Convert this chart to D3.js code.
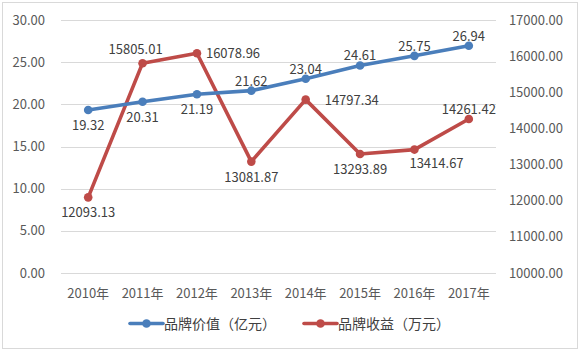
<!DOCTYPE html>
<html><head><meta charset="utf-8">
<script src="https://cdn.jsdelivr.net/npm/d3@7"></script>
<style>body{margin:0;background:#fff}svg{display:block}text{font-family:"Noto Sans CJK SC","Open Sans",sans-serif}</style>
</head><body><svg id="c" width="581" height="355"></svg>
<script>
const categories = ["2010年","2011年","2012年","2013年","2014年","2015年","2016年","2017年"];
const brandValue = [19.32,20.31,21.19,21.62,23.04,24.61,25.75,26.94];
const brandIncome = [12093.13,15805.01,16078.96,13081.87,14797.34,13293.89,13414.67,14261.42];
const leftTicks = [0,5,10,15,20,25,30];
const rightTicks = [10000,11000,12000,13000,14000,15000,16000,17000];
const seriesNames = ["品牌价值（亿元）","品牌收益（万元）"];
const valuePlace = ["below","below","below","above","above","above","above","above"];
const incomePlace = ["below","aboveLeft","right","below","rightFar","below","belowRight","above"];

const svg = d3.select("#c");
svg.append("rect").attr("x",2.5).attr("y",2.5).attr("width",575).attr("height",346).attr("fill","#fff").attr("stroke","#d9d9d9");
const xb = d3.scaleBand().domain(categories).range([61,496]);
const yL = d3.scaleLinear().domain([0,30]).range([273,20]);
const yR = d3.scaleLinear().domain([10000,17000]).range([273,20]);
const blue="#4a7ebb", red="#be4b48", txt="#404040", axc="#595959";

svg.append("g").selectAll("line").data(leftTicks).join("line")
 .attr("x1",61).attr("x2",496).attr("y1",d=>Math.round(yL(d))+0.5).attr("y2",d=>Math.round(yL(d))+0.5)
 .attr("stroke","#d9d9d9").attr("stroke-width",1);

svg.append("g").selectAll("text").data(leftTicks).join("text")
 .attr("x",45).attr("y",d=>yL(d)+4.5).attr("text-anchor","end").attr("font-size",13).attr("fill",axc)
 .text(d=>d.toFixed(2));
svg.append("g").selectAll("text").data(rightTicks).join("text")
 .attr("x",563).attr("y",d=>yR(d)+4.5).attr("text-anchor","end").attr("font-size",13).attr("fill",axc)
 .text(d=>d.toFixed(2));
svg.append("g").selectAll("text").data(categories).join("text")
 .attr("x",d=>xb(d)+xb.bandwidth()/2).attr("y",298).attr("text-anchor","middle").attr("font-size",13).attr("fill",axc)
 .text(d=>d);

const offs = {
  above:{dx:0,dy:-5,a:"middle"}, aboveLeft:{dx:-7,dy:-9,a:"middle"},
  below:{dx:0,dy:20,a:"middle"}, belowRight:{dx:-5,dy:18,a:"start"},
  right:{dx:9,dy:5,a:"start"}, rightFar:{dx:19,dy:5,a:"start"}
};
function series(vals,ys,color,places){
  const pts = vals.map((v,i)=>[xb(categories[i])+xb.bandwidth()/2, ys(v)]);
  svg.append("path").attr("d",d3.line()(pts)).attr("fill","none").attr("stroke",color).attr("stroke-width",3.6).attr("stroke-linejoin","round").attr("stroke-linecap","round");
  svg.append("g").selectAll("circle").data(pts).join("circle").attr("cx",d=>d[0]).attr("cy",d=>d[1]).attr("r",4.3).attr("fill",color);
  svg.append("g").selectAll("text").data(vals).join("text")
   .attr("font-size",13).attr("fill",txt)
   .attr("x",(d,i)=>pts[i][0]+offs[places[i]].dx)
   .attr("y",(d,i)=>pts[i][1]+offs[places[i]].dy)
   .attr("text-anchor",(d,i)=>offs[places[i]].a)
   .text(d=>d.toFixed(2));
}
series(brandIncome,yR,red,incomePlace);
series(brandValue,yL,blue,valuePlace);

const leg=[{c:blue,x:130},{c:red,x:304}];
leg.forEach((l,i)=>{
  const g=svg.append("g");
  g.append("line").attr("x1",l.x).attr("x2",l.x+33).attr("y1",323.5).attr("y2",323.5).attr("stroke",l.c).attr("stroke-width",3.6).attr("stroke-linecap","round");
  g.append("circle").attr("cx",l.x+16.5).attr("cy",323.5).attr("r",4.3).attr("fill",l.c);
  g.append("text").attr("x",l.x+34).attr("y",328.5).attr("font-size",14).attr("fill",txt).text(seriesNames[i]);
});
</script></body></html>
